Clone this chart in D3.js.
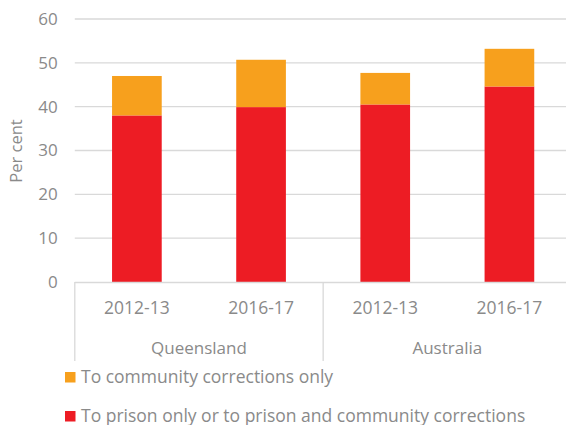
<!DOCTYPE html>
<html><head><meta charset="utf-8">
<script src="https://cdn.jsdelivr.net/npm/d3@7"></script>
<style>body{margin:0;background:#fff}svg{display:block}text{font-family:"Open Sans",sans-serif;fill:#8a8a8a}</style>
</head><body><svg id="c" width="566" height="425"></svg>
<script>
const groups = ["Queensland", "Queensland", "Australia", "Australia"];
const years = ["2012-13", "2016-17", "2012-13", "2016-17"];
const prison = [38.0, 39.9, 40.5, 44.6];
const community = [9.0, 10.8, 7.2, 8.6];
const seriesNames = ["To community corrections only", "To prison only or to prison and community corrections"];
const colors = ["#F7A01D", "#ED1C24"];
const yTicks = [0, 10, 20, 30, 40, 50, 60];

const svg = d3.select("#c");
const L = 74.8, R = 571.5, T = 19, B = 282;
const idx = d3.range(years.length);
const x = d3.scaleBand().domain(idx).range([L, R]).paddingInner(0.6).paddingOuter(0.3);
const y = d3.scaleLinear().domain([0, 60]).range([B, T]);

// gridlines
svg.append("g").selectAll("line").data(yTicks.filter(d => d > 0)).join("line")
  .attr("x1", L).attr("x2", R).attr("y1", d => y(d)).attr("y2", d => y(d))
  .attr("stroke", "#d9d9d9").attr("stroke-width", 1.3);

// y axis labels
const ya = svg.append("g").attr("transform", `translate(${L},0)`)
  .call(d3.axisLeft(y).tickValues(yTicks).tickSize(0).tickPadding(17));
ya.select(".domain").remove();
ya.selectAll("text").attr("font-size", 17).style("font-family", "Open Sans").attr("fill", "#8a8a8a");

svg.append("text").attr("transform", `translate(22,151) rotate(-90)`)
  .attr("text-anchor", "middle").attr("font-size", 16.5).text("Per cent");

// bars
const bw = x.bandwidth();
svg.append("g").selectAll("rect").data(idx).join("rect")
  .attr("x", i => x(i)).attr("width", bw)
  .attr("y", i => y(prison[i])).attr("height", i => y(0) - y(prison[i]))
  .attr("fill", colors[1]);
svg.append("g").selectAll("rect").data(idx).join("rect")
  .attr("x", i => x(i)).attr("width", bw)
  .attr("y", i => y(prison[i] + community[i])).attr("height", i => y(prison[i]) - y(prison[i] + community[i]))
  .attr("fill", colors[0]);

// x axis baseline and separators
svg.append("line").attr("x1", L).attr("x2", R).attr("y1", B + 0.5).attr("y2", B + 0.5)
  .attr("stroke", "#d9d9d9").attr("stroke-width", 1.3);
const seps = [L, (L + R) / 2, R];
svg.append("g").selectAll("line").data(seps).join("line")
  .attr("x1", d => d).attr("x2", d => d).attr("y1", B).attr("y2", 361)
  .attr("stroke", "#d9d9d9").attr("stroke-width", 1.3);

// year labels
svg.append("g").selectAll("text").data(idx).join("text")
  .attr("x", i => x(i) + bw / 2).attr("y", 314).attr("text-anchor", "middle")
  .attr("font-size", 17.5).text(i => years[i]);
// group labels
const groupNames = Array.from(new Set(groups));
svg.append("g").selectAll("text").data(groupNames).join("text")
  .attr("x", g => { const ii = idx.filter(i => groups[i] === g); return (x(ii[0]) + x(ii[ii.length - 1]) + bw) / 2; })
  .attr("y", 354).attr("text-anchor", "middle").attr("font-size", 17).text(g => g);

// legend
const lg = svg.append("g");
seriesNames.forEach((s, i) => {
  const yy = 377 + i * 39;
  lg.append("rect").attr("x", 65).attr("y", yy - 5).attr("width", 10.5).attr("height", 10.5).attr("fill", colors[i]);
  lg.append("text").attr("x", 81).attr("y", yy + 5.5).attr("font-size", 17.5).text(s);
});
</script></body></html>
